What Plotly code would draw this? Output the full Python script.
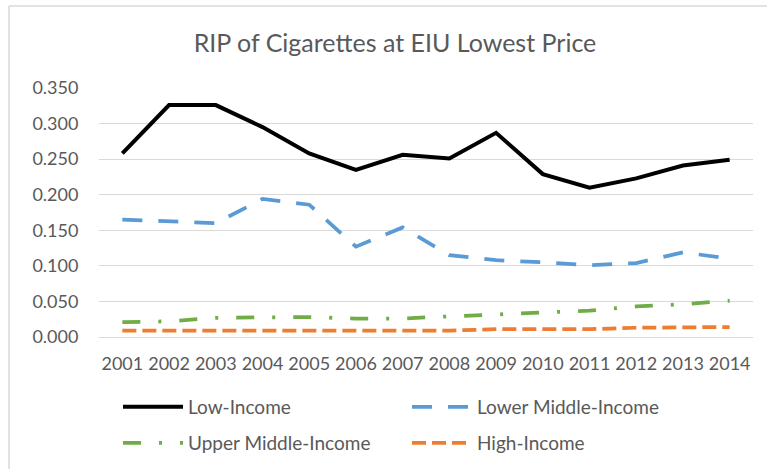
import plotly.graph_objects as go

years = ["2001","2002","2003","2004","2005","2006","2007","2008","2009","2010","2011","2012","2013","2014"]
low_income = [0.258, 0.326, 0.326, 0.295, 0.258, 0.235, 0.256, 0.251, 0.287, 0.229, 0.210, 0.223, 0.241, 0.249]
lower_middle = [0.165, 0.163, 0.160, 0.194, 0.186, 0.127, 0.154, 0.115, 0.108, 0.105, 0.101, 0.104, 0.119, 0.110]
upper_middle = [0.021, 0.022, 0.027, 0.028, 0.028, 0.026, 0.026, 0.029, 0.032, 0.034, 0.037, 0.043, 0.046, 0.051]
high_income = [0.009, 0.009, 0.009, 0.009, 0.009, 0.009, 0.009, 0.009, 0.011, 0.011, 0.011, 0.013, 0.014, 0.014]

FONT = "Lato"
fig = go.Figure()
fig.add_trace(go.Scatter(x=years, y=low_income, name="Low-Income", mode="lines",
                         line=dict(color="#000000", width=4), legend="legend"))
fig.add_trace(go.Scatter(x=years, y=lower_middle, name="Lower Middle-Income", mode="lines",
                         line=dict(color="#5B9BD5", width=3.75, dash="20px,16px"), legend="legend2"))
fig.add_trace(go.Scatter(x=years, y=upper_middle, name="Upper Middle-Income", mode="lines",
                         line=dict(color="#70AD47", width=3.75, dash="18px,18px,3px,18px"), legend="legend3"))
fig.add_trace(go.Scatter(x=years, y=high_income, name="High-Income", mode="lines",
                         line=dict(color="#ED7D31", width=3.75, dash="14px,6px"), legend="legend4"))

leg_common = dict(orientation="h", xanchor="left", yanchor="middle",
                  font=dict(family=FONT, size=19, color="#595959"),
                  bgcolor="rgba(0,0,0,0)", itemwidth=60)

col1 = (118 - 99) / 654
col2 = (407 - 99) / 654
row1 = -(407 - 337) / 249
row2 = -(443 - 337) / 249

fig.update_layout(
    width=767, height=469,
    margin=dict(l=99, r=14, t=88, b=132, autoexpand=False),
    paper_bgcolor="white", plot_bgcolor="white",
    title=dict(text="RIP of Cigarettes at EIU Lowest Price", x=0.515, xanchor="center",
               y=1 - 43/469, yanchor="middle", font=dict(family=FONT, size=25, color="#595959")),
    showlegend=True,
    legend=dict(x=col1, y=row1, **leg_common),
    legend2=dict(x=col2, y=row1, **leg_common),
    legend3=dict(x=col1, y=row2, **leg_common),
    legend4=dict(x=col2, y=row2, **leg_common),
    xaxis=dict(type="category", range=[-0.5, 13.5], showgrid=False, showline=True,
               linecolor="#D9D9D9", linewidth=1,
               ticks="outside", ticklen=10, tickcolor="rgba(0,0,0,0)",
               tickfont=dict(family=FONT, size=18, color="#595959"), zeroline=False),
    yaxis=dict(range=[0, 0.35], dtick=0.05, tickformat=".3f", showgrid=True, gridcolor="#D9D9D9",
               gridwidth=1, zeroline=False, showline=False, ticks="outside", ticklen=16,
               tickcolor="rgba(0,0,0,0)", tickfont=dict(family=FONT, size=18, color="#595959")),
    shapes=[dict(type="line", xref="paper", yref="paper", x0=(9-99)/654, x1=(9-99)/654,
                 y0=(337-6)/249, y1=(337-480)/249, line=dict(color="#D9D9D9", width=1.5)),
            dict(type="line", xref="paper", yref="paper", x0=(9-99)/654, x1=(780-99)/654,
                 y0=(337-6)/249, y1=(337-6)/249, line=dict(color="#D9D9D9", width=1.5))],
)
fig.write_html("out.html")
